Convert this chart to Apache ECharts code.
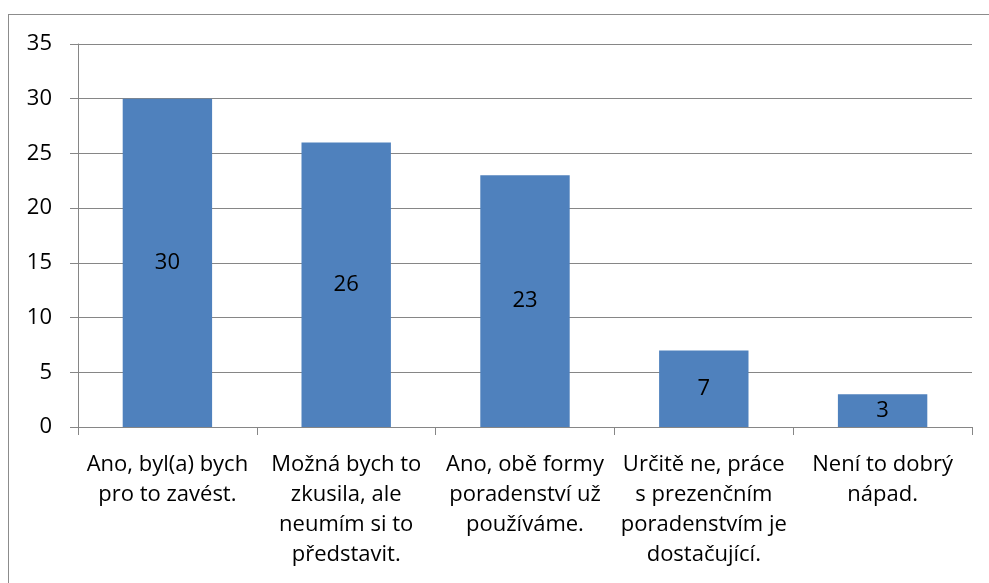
<!DOCTYPE html>
<html>
<head>
<meta charset="utf-8">
<script src="https://cdn.jsdelivr.net/npm/echarts@6/dist/echarts.min.js"></script>
<style>
  html, body { margin: 0; padding: 0; background: #fff; overflow: hidden; }
  #ram { position: absolute; left: 8px; top: 14px; width: 1000px; height: 600px; border: 1px solid #8c8c8c; }
  #graf { position: absolute; left: 0; top: 0; width: 989px; height: 583px; }
</style>
</head>
<body>
<div id="ram"></div>
<div id="graf"></div>
<script>
// Data z grafu
var kategorie = [
	'Ano, byl(a) bych\npro to zavést.',
	'Možná bych to\nzkusila, ale\nneumím si to\npředstavit.',
	'Ano, obě formy\nporadenství už\npoužíváme.',
	'Určitě ne, práce\ns prezenčním\nporadenstvím je\ndostačující.',
	'Není to dobrý\nnápad.'
];
var hodnoty = [30, 26, 23, 7, 3];
var osaY = [0, 5, 10, 15, 20, 25, 30, 35];

var graf = echarts.init(document.getElementById('graf'));

var moznosti = {
	animation: false,
	grid: { left: 78, top: 44, right: 17, bottom: 156 },
	textStyle: { fontFamily: 'Open Sans' },
	xAxis: {
		type: 'category',
		data: kategorie,
		axisLine: { lineStyle: { color: '#868686', width: 1 } },
		axisTick: { show: true, length: 8, lineStyle: { color: '#868686' } },
		axisLabel: {
			interval: 0,
			margin: 23,
			color: '#000',
			fontSize: 22,
			lineHeight: 30,
			fontFamily: 'Open Sans'
		}
	},
	yAxis: {
		type: 'value',
		min: osaY[0],
		max: osaY[osaY.length - 1],
		interval: 5,
		axisLine: { show: true, lineStyle: { color: '#868686', width: 1 } },
		axisTick: { show: true, length: 8, lineStyle: { color: '#868686' } },
		splitLine: { lineStyle: { color: '#868686', width: 1 } },
		axisLabel: { color: '#000', fontSize: 22, margin: 26, fontFamily: 'Open Sans' }
	},
	series: [{
		type: 'bar',
		data: hodnoty,
		barWidth: '50%',
		itemStyle: { color: '#4F81BD' },
		label: {
			show: true,
			position: 'inside',
			color: '#000',
			fontSize: 22,
			fontFamily: 'Open Sans'
		}
	}]
};

graf.setOption(moznosti);
</script>
</body>
</html>
